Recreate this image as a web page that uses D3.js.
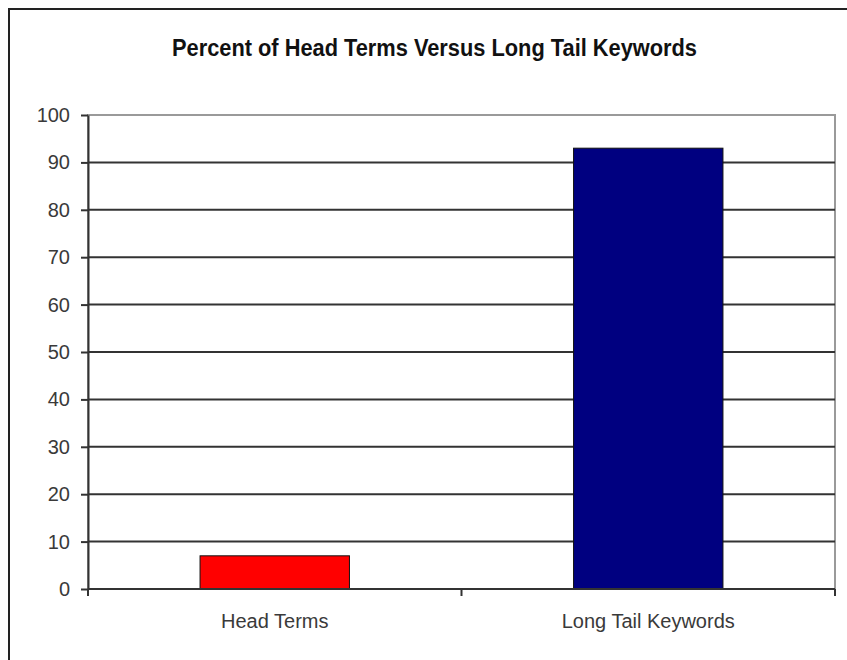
<!DOCTYPE html>
<html>
<head>
<meta charset="utf-8">
<script src="https://cdn.jsdelivr.net/npm/d3@7"></script>
<style>
  html, body { margin: 0; padding: 0; background: #fff; }
  svg { display: block; font-family: Arial, "Liberation Sans", Helvetica, sans-serif; }
</style>
</head>
<body>
<svg id="chart" width="847" height="660"></svg>
<script>
// the data, straight off the picture
var categories = ["Head Terms", "Long Tail Keywords"];
var percents = [7, 93];
var barColors = ["#ff0000", "#000080"];
var yTicks = [0, 10, 20, 30, 40, 50, 60, 70, 80, 90, 100];
var chartTitle = "Percent of Head Terms Versus Long Tail Keywords";

var svg = d3.select("#chart");
var plot = { left: 88, right: 835, top: 115, bottom: 589 };

var x = d3.scaleBand()
    .domain(categories)
    .range([plot.left, plot.right])
    .paddingInner(0)
    .paddingOuter(0);

var y = d3.scaleLinear()
    .domain([0, 100])
    .range([plot.bottom, plot.top]);

// outer frame (only left + top show in the original, rest is cropped off)
svg.append("path")
    .attr("d", "M9,660 L9,9 L847,9")
    .attr("fill", "none")
    .attr("stroke", "#222")
    .attr("stroke-width", 2);

// title - squashed bold like excel does it
svg.append("text")
    .attr("x", 172)
    .attr("y", 56)
    .attr("font-size", 23)
    .attr("font-weight", "bold")
    .attr("fill", "#111")
    .attr("textLength", 525)
    .attr("lengthAdjust", "spacingAndGlyphs")
    .text(chartTitle);

// plot area border, light gray
svg.append("rect")
    .attr("x", plot.left)
    .attr("y", plot.top)
    .attr("width", plot.right - plot.left)
    .attr("height", plot.bottom - plot.top)
    .attr("fill", "#fff")
    .attr("stroke", "#9a9a9a")
    .attr("stroke-width", 2);

// gridlines
svg.append("g")
    .selectAll("line")
    .data(yTicks.filter(function (t) { return t > 0 && t < 100; }))
    .join("line")
    .attr("x1", plot.left)
    .attr("x2", plot.right)
    .attr("y1", function (d) { return y(d); })
    .attr("y2", function (d) { return y(d); })
    .attr("stroke", "#333")
    .attr("stroke-width", 2);

// bars, excel gap width 150% -> bar is 40% of the band
var barW = x.bandwidth() * 0.4;
svg.append("g")
    .selectAll("rect")
    .data(categories)
    .join("rect")
    .attr("x", function (d) { return x(d) + (x.bandwidth() - barW) / 2; })
    .attr("y", function (d, i) { return y(percents[i]); })
    .attr("width", barW)
    .attr("height", function (d, i) { return y(0) - y(percents[i]); })
    .attr("fill", function (d, i) { return barColors[i]; })
    .attr("stroke", "#111")
    .attr("stroke-width", 1);

// y axis
var yAxis = svg.append("g")
    .attr("transform", "translate(" + plot.left + ",0)")
    .call(d3.axisLeft(y).tickValues(yTicks).tickSize(7).tickPadding(11).tickSizeOuter(0));
yAxis.select(".domain").attr("stroke", "#333").attr("stroke-width", 2);
yAxis.selectAll(".tick line").attr("stroke", "#333").attr("stroke-width", 2);
yAxis.selectAll(".tick text")
    .attr("font-size", 20)
    .attr("font-family", "Arial, 'Liberation Sans', sans-serif")
    .attr("fill", "#3a3a3a");

// x axis: ticks sit on the band edges, not centers
var xAxisG = svg.append("g").attr("transform", "translate(0," + plot.bottom + ")");
xAxisG.append("line")
    .attr("x1", plot.left).attr("x2", plot.right)
    .attr("stroke", "#333").attr("stroke-width", 2);
var edges = categories.map(function (c) { return x(c); }).concat([x(categories[categories.length - 1]) + x.bandwidth()]);
xAxisG.selectAll(".edge")
    .data(edges)
    .join("line")
    .attr("class", "edge")
    .attr("x1", function (d) { return d; })
    .attr("x2", function (d) { return d; })
    .attr("y1", 0)
    .attr("y2", 7)
    .attr("stroke", "#333")
    .attr("stroke-width", 2);
xAxisG.selectAll(".lbl")
    .data(categories)
    .join("text")
    .attr("class", "lbl")
    .attr("x", function (d) { return x(d) + x.bandwidth() / 2; })
    .attr("y", 39)
    .attr("text-anchor", "middle")
    .attr("font-size", 20)
    .attr("fill", "#3a3a3a")
    .text(function (d) { return d; });
</script>
</body>
</html>
